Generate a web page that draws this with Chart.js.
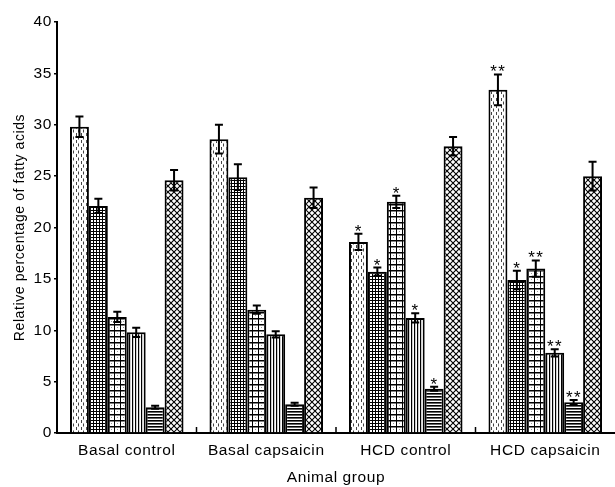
<!DOCTYPE html>
<html>
<head>
<meta charset="utf-8">
<script src="https://cdn.jsdelivr.net/npm/chart.js"></script>
<style>
  html, body { margin: 0; padding: 0; background: #fff; }
  #wrap { width: 615px; height: 487px; }
</style>
</head>
<body>
<div id="wrap"><canvas id="chart" width="615" height="487"></canvas></div>
<script>
const groups = ['Basal control', 'Basal capsaicin', 'HCD control', 'HCD capsaicin'];
const seriesNames = ['FA 1', 'FA 2', 'FA 3', 'FA 4', 'FA 5', 'FA 6'];

// mean values per fatty acid, one entry per animal group
const fa1 = [29.8, 28.6, 18.6, 33.4];
const fa2 = [22.1, 24.9, 15.7, 14.9];
const fa3 = [11.3, 12.0, 22.5, 16.0];
const fa4 = [9.8, 9.6, 11.2, 7.8];
const fa5 = [2.5, 2.8, 4.3, 3.0];
const fa6 = [24.6, 22.9, 27.9, 25.0];

// error bar half lengths
const err1 = [1.0, 1.4, 0.8, 1.5];
const err2 = [0.7, 1.25, 0.4, 0.9];
const err3 = [0.5, 0.4, 0.6, 0.8];
const err4 = [0.45, 0.3, 0.45, 0.35];
const err5 = [0.15, 0.15, 0.2, 0.2];
const err6 = [1.0, 1.0, 0.9, 1.4];

// significance marks
const sig1 = ['', '', '*', '**'];
const sig2 = ['', '', '*', '*'];
const sig3 = ['', '', '*', '**'];
const sig4 = ['', '', '*', '**'];
const sig5 = ['', '', '*', '**'];
const sig6 = ['', '', '', ''];

const yTicks = [0, 5, 10, 15, 20, 25, 30, 35, 40];

const values = [fa1, fa2, fa3, fa4, fa5, fa6];
const errors = [err1, err2, err3, err4, err5, err6];
const marks = [sig1, sig2, sig3, sig4, sig5, sig6];

function makePattern(w, h, draw) {
    const c = document.createElement('canvas');
    c.width = w;
    c.height = h;
    const g = c.getContext('2d');
    g.fillStyle = '#fff';
    g.fillRect(0, 0, w, h);
    draw(g);
    return document.getElementById('chart').getContext('2d').createPattern(c, 'repeat');
}

const patterns = [
    // staggered dashes
    makePattern(5, 7, g => {
        g.fillStyle = '#444';
        g.fillRect(1, 0, 1, 3);
        g.fillRect(3, 3.5, 1, 3);
    }),
    // fine dense grid
    makePattern(3, 3, g => {
        g.fillStyle = '#000';
        g.fillRect(0, 0, 3, 1);
        g.fillRect(0, 0, 1, 3);
    }),
    // coarse squares
    makePattern(6, 6, g => {
        g.fillStyle = '#000';
        g.fillRect(0, 0, 6, 1.5);
        g.fillRect(0, 0, 1, 6);
        g.fillStyle = '#999';
        g.fillRect(3, 3, 1, 1);
    }),
    // vertical lines
    makePattern(3, 1, g => {
        g.fillStyle = '#000';
        g.fillRect(0, 0, 1.2, 1);
    }),
    // horizontal lines
    makePattern(1, 3, g => {
        g.fillStyle = '#000';
        g.fillRect(0, 0, 1, 1.6);
    }),
    // diagonal crosshatch
    makePattern(6, 6, g => {
        g.strokeStyle = '#000';
        g.lineWidth = 1.1;
        g.beginPath();
        g.moveTo(0, 0); g.lineTo(6, 6);
        g.moveTo(6, 0); g.lineTo(0, 6);
        g.stroke();
    })
];

const datasets = seriesNames.map((name, i) => ({
    label: name,
    data: values[i],
    backgroundColor: patterns[i],
    borderColor: '#000',
    borderWidth: 2,
    borderSkipped: 'start',
    categoryPercentage: 0.814,
    barPercentage: 1.0
}));

const errorBars = {
    id: 'errorBars',
    afterDatasetsDraw(chart) {
        const ctx = chart.ctx;
        const y = chart.scales.y;
        ctx.save();
        ctx.strokeStyle = '#000';
        ctx.fillStyle = '#000';
        ctx.lineWidth = 2;
        datasets.forEach((ds, d) => {
            const meta = chart.getDatasetMeta(d);
            meta.data.forEach((bar, i) => {
                const v = values[d][i];
                const e = errors[d][i];
                const top = y.getPixelForValue(v + e);
                const bot = y.getPixelForValue(v - e);
                ctx.beginPath();
                ctx.moveTo(bar.x, top); ctx.lineTo(bar.x, bot);
                ctx.moveTo(bar.x - 4, top); ctx.lineTo(bar.x + 4, top);
                ctx.moveTo(bar.x - 4, bot); ctx.lineTo(bar.x + 4, bot);
                ctx.stroke();
                const m = marks[d][i];
                if (m) {
                    ctx.font = '17px "Liberation Sans", Arial, sans-serif';
                    ctx.textAlign = 'center';
                    ctx.textBaseline = 'alphabetic';
                    const n = m.length;
                    for (let k = 0; k < n; k++) {
                        const dx = (k - (n - 1) / 2) * 8;
                        ctx.fillText('*', bar.x + dx, top + 3);
                    }
                }
            });
        });
        ctx.restore();
    }
};

// short inward tick marks between the groups
const groupTicks = {
    id: 'groupTicks',
    afterDraw(chart) {
        const ctx = chart.ctx;
        const x = chart.scales.x;
        const bottom = chart.chartArea.bottom;
        const half = (x.getPixelForValue(1) - x.getPixelForValue(0)) / 2;
        ctx.save();
        ctx.strokeStyle = '#000';
        ctx.lineWidth = 1.5;
        for (let i = 0; i < groups.length - 1; i++) {
            const px = x.getPixelForValue(i) + half;
            ctx.beginPath();
            ctx.moveTo(px, bottom);
            ctx.lineTo(px, bottom - 6);
            ctx.stroke();
        }
        ctx.restore();
    }
};

const spacing = {
    id: 'spacing',
    beforeDraw(chart) {
        chart.ctx.letterSpacing = '0.6px';
    }
};

new Chart(document.getElementById('chart'), {
    type: 'bar',
    data: { labels: groups, datasets: datasets },
    options: {
        responsive: false,
        devicePixelRatio: 1,
        animation: false,
        layout: { padding: { top: 22, right: -3, bottom: 0, left: 0 } },
        plugins: {
            legend: { display: false },
            tooltip: { enabled: false }
        },
        scales: {
            x: {
                grid: { display: false, drawTicks: false },
                border: { display: true, color: '#000', width: 2 },
                ticks: {
                    color: '#000',
                    padding: 8,
                    font: { family: '"Liberation Sans", Arial, sans-serif', size: 15.5 }
                },
                title: {
                    display: true,
                    text: 'Animal group',
                    color: '#000',
                    padding: { top: 0, bottom: 0 },
                    font: { family: '"Liberation Sans", Arial, sans-serif', size: 15.5 }
                },
                afterFit(scale) { scale.height = 54; }
            },
            y: {
                min: 0,
                max: 40,
                afterBuildTicks(scale) { scale.ticks = yTicks.map(v => ({ value: v })); },
                grid: { drawOnChartArea: false, color: '#000', tickLength: 3, lineWidth: 1.5 },
                border: { display: true, color: '#000', width: 2 },
                ticks: {
                    color: '#000',
                    padding: 2,
                    font: { family: '"Liberation Sans", Arial, sans-serif', size: 15.5 }
                },
                title: {
                    display: true,
                    text: 'Relative percentage of fatty acids',
                    color: '#000',
                    padding: { top: 12, bottom: 0 },
                    font: { family: '"Liberation Sans", Arial, sans-serif', size: 14 }
                },
                afterFit(scale) { scale.width = 57; }
            }
        }
    },
    plugins: [errorBars, groupTicks, spacing]
});
</script>
</body>
</html>
